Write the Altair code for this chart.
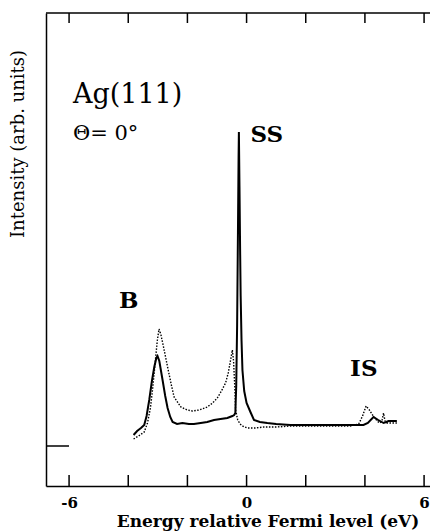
import altair as alt
import pandas as pd

# ---- data ----
solid_e = [-3.82, -3.70, -3.57, -3.46, -3.38, -3.29, -3.20, -3.12, -3.05, -3.01, -2.95, -2.84,
           -2.75, -2.67, -2.58, -2.50, -2.35, -2.17, -1.95, -1.78, -1.55, -1.33, -1.10, -0.88,
           -0.65, -0.48, -0.42, -0.38, -0.35, -0.32, -0.29, -0.27, -0.26, -0.24, -0.22, -0.20,
           -0.17, -0.14, -0.08, 0.00, 0.13, 0.25, 0.45, 0.70, 1.00, 1.48, 2.00, 2.50, 3.00,
           3.50, 3.95, 4.10, 4.29, 4.45, 4.63, 4.72, 4.80, 4.95, 5.08]
solid_i = [1.1, 1.5, 1.8, 2.1, 3.0, 4.6, 6.5, 7.9, 8.8, 9.0, 8.5, 6.6,
           5.0, 3.8, 2.9, 2.4, 2.2, 2.3, 2.2, 2.2, 2.3, 2.4, 2.6, 2.7,
           2.8, 3.0, 3.1, 3.3, 6.0, 12.0, 22.0, 29.0, 31.4, 26.0, 20.0, 15.0,
           10.5, 7.6, 5.5, 4.3, 3.4, 2.6, 2.4, 2.3, 2.2, 2.1, 2.1, 2.1, 2.1,
           2.1, 2.1, 2.3, 2.9, 2.6, 2.3, 2.4, 2.5, 2.5, 2.5]

dot_e = [-3.82, -3.65, -3.46, -3.35, -3.25, -3.18, -3.10, -3.02, -2.96, -2.90, -2.80, -2.67,
         -2.55, -2.45, -2.22, -2.00, -1.83, -1.60, -1.33, -1.15, -0.99, -0.85, -0.71, -0.62,
         -0.54, -0.48, -0.44, -0.40, -0.37, -0.30, -0.22, -0.14, 0.02, 0.30, 0.58, 1.00,
         1.50, 2.00, 2.50, 3.00, 3.50, 3.79, 3.92, 4.04, 4.15, 4.30, 4.45, 4.52, 4.58,
         4.63, 4.68, 4.75, 4.90, 5.08]
dot_i = [0.7, 1.0, 1.4, 2.3, 3.8, 5.6, 8.0, 10.5, 11.7, 11.2, 9.8, 7.9,
         6.2, 4.9, 3.9, 3.6, 3.5, 3.6, 3.9, 4.3, 4.8, 5.5, 6.3, 7.3,
         8.6, 9.6, 8.5, 6.0, 3.6, 2.6, 2.2, 2.0, 1.8, 1.8, 1.9, 1.9,
         2.0, 2.0, 2.0, 2.0, 2.0, 2.2, 3.0, 4.0, 3.6, 2.9, 2.4, 2.3, 2.6,
         3.3, 2.5, 2.3, 2.3, 2.3]

tick_values = [-6, -4, -2, 0, 2, 4, 6]
tick_labels = [-6, 0, 6]
zero_level = [0]

# annotations (text, energy, intensity at baseline-left)
big_text = ["Ag(111)"]
big_e = [-5.87]
big_i = [34.3]
theta_text = ["Θ= 0°"]
theta_e = [-5.87]
theta_i = [30.6]
peak_text = ["SS", "B", "IS"]
peak_e = [0.13, -4.31, 3.50]
peak_i = [30.4, 13.8, 7.0]

x_title = "Energy relative Fermi level (eV)"
y_title = "Intensity (arb. units)"

# ---- chart ----
W, H = 384, 473
FONT = "DejaVu Serif"

xscale = alt.Scale(domain=[-6.78, 6.2], nice=False, zero=False)
yscale = alt.Scale(domain=[-4, 43.3], nice=False, zero=False)

x_axis = alt.Axis(values=tick_labels, ticks=False, tickSize=0, grid=False, domain=True,
                  domainColor="black", domainWidth=1.5, labelFont=FONT, labelFontSize=15,
                  labelFontWeight="bold", labelPadding=9, labelColor="black", title=None,
                  labelExpr="replace(datum.label, '\u2212', '-')")
y_axis = alt.Axis(ticks=False, labels=False, grid=False, domain=True, domainColor="black",
                  domainWidth=1.5, title=None)

solid_df = pd.DataFrame({"E": solid_e, "I": solid_i})
dot_df = pd.DataFrame({"E": dot_e, "I": dot_i})

solid = alt.Chart(solid_df).mark_line(color="black", strokeWidth=2).encode(
    x=alt.X("E:Q", scale=xscale, axis=x_axis),
    y=alt.Y("I:Q", scale=yscale, axis=y_axis),
)
dotted = alt.Chart(dot_df).mark_line(color="black", strokeWidth=1.4, strokeDash=[1.5, 1.5]).encode(
    x=alt.X("E:Q", scale=xscale),
    y=alt.Y("I:Q", scale=yscale),
)

ticks_df = pd.DataFrame({"E": tick_values})
bottom_ticks = alt.Chart(ticks_df).mark_rule(color="black", strokeWidth=1.5).encode(
    x=alt.X("E:Q", scale=xscale), y=alt.value(H), y2=alt.value(H - 11))
top_ticks = alt.Chart(ticks_df).mark_rule(color="black", strokeWidth=1.5).encode(
    x=alt.X("E:Q", scale=xscale), y=alt.value(0), y2=alt.value(10))
top_spine = alt.Chart(ticks_df.head(1)).mark_rule(color="black", strokeWidth=1.5).encode(
    x=alt.value(0), x2=alt.value(W), y=alt.value(0))
zero_tick = alt.Chart(pd.DataFrame({"I": zero_level})).mark_rule(color="black", strokeWidth=1.5).encode(
    y=alt.Y("I:Q", scale=yscale), x=alt.value(0), x2=alt.value(23))


def label_layer(texts, es, is_, size, weight):
    df = pd.DataFrame({"t": texts, "E": es, "I": is_})
    return alt.Chart(df).mark_text(align="left", baseline="alphabetic", font=FONT,
                                   fontSize=size, fontWeight=weight, color="black").encode(
        x=alt.X("E:Q", scale=xscale), y=alt.Y("I:Q", scale=yscale), text="t:N")


ag = label_layer(big_text, big_e, big_i, 27, "normal")
theta = label_layer(theta_text, theta_e, theta_i, 21, "normal")
peaks = label_layer(peak_text, peak_e, peak_i, 23, "bold")

ytitle = alt.Chart(pd.DataFrame({"t": [y_title]})).mark_text(
    angle=270, align="center", baseline="middle", font=FONT, fontSize=18, color="black").encode(
    x=alt.value(-27), y=alt.value(131), text="t:N")
xtitle = alt.Chart(pd.DataFrame({"t": [x_title]})).mark_text(
    align="center", baseline="middle", font=FONT, fontSize=17, fontWeight="bold", color="black").encode(
    x=alt.value(222), y=alt.value(509), text="t:N")

chart = alt.layer(
    solid, dotted, bottom_ticks, top_ticks, top_spine, zero_tick, ag, theta, peaks, ytitle, xtitle
).properties(
    width=W, height=H,
    padding={"left": 38, "top": 5, "right": 0, "bottom": 45},
    autosize=alt.AutoSizeParams(type="none"),
    background="white",
).configure_view(stroke=None)

chart.save("out.html", embed_options={"renderer": "svg", "actions": False})
